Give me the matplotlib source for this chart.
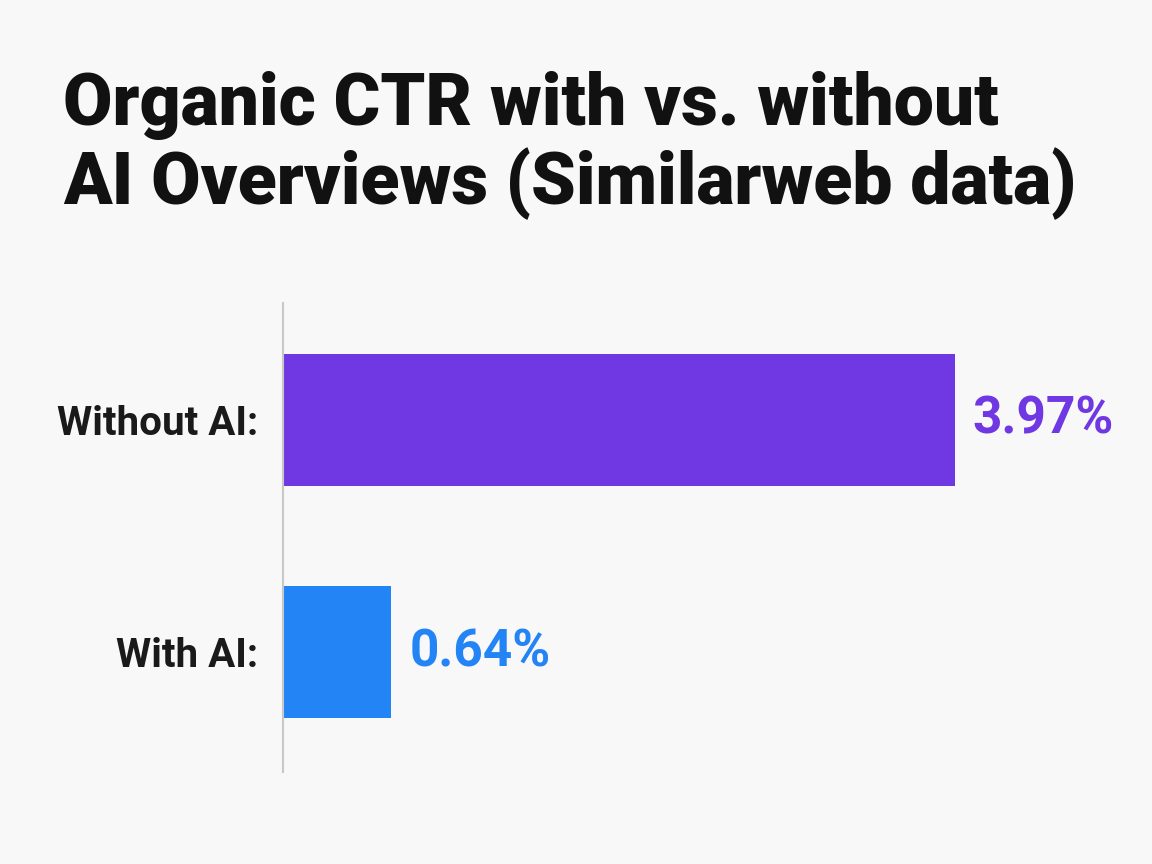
import matplotlib
matplotlib.use("Agg")
import matplotlib.pyplot as plt

categories = ["With AI:", "Without AI:"]
values = [0.64, 3.97]
value_labels = ["0.64%", "3.97%"]
colors = ["#2384F6", "#7038E3"]
title = "Organic CTR with vs. without\nAI Overviews (Similarweb data)"

plt.rcParams['font.family'] = ['Roboto', 'DejaVu Sans']
bg = "#F8F8F8"
fig = plt.figure(figsize=(11.52, 8.64), dpi=100, facecolor=bg)
W, H = 1152, 864
ax = fig.add_axes([283 / W, 1 - 772 / H, 846 / W, 469 / H])
ax.set_facecolor(bg)

ypos = list(range(len(categories)))
ax.barh(ypos, values, height=0.569, color=colors, zorder=2)
ax.set_xlim(0, 5)
ax.set_ylim(-0.517, 1.504)

for y, v, lab, c in zip(ypos, values, value_labels, colors):
    ax.annotate(lab, xy=(v, y), xytext=(13, 0), textcoords="offset points",
                ha="left", va="center", fontsize=37, fontweight="bold", color=c)

ax.set_yticks(ypos)
ax.set_yticklabels(categories, fontsize=29, fontweight="bold", color="#1a1a1a")
ax.tick_params(axis="y", length=0, pad=18)
ax.set_xticks([])
for s in ["top", "right", "bottom"]:
    ax.spines[s].set_visible(False)
ax.spines["left"].set_color("#C8C8C8")
ax.spines["left"].set_linewidth(1.5)

fig.text(63 / W, 1 - 71 / H, title, ha="left", va="top", fontsize=51.5,
         fontweight="heavy", color="#111111", linespacing=1.12)

fig.savefig("out.png", dpi=100, facecolor=bg)
